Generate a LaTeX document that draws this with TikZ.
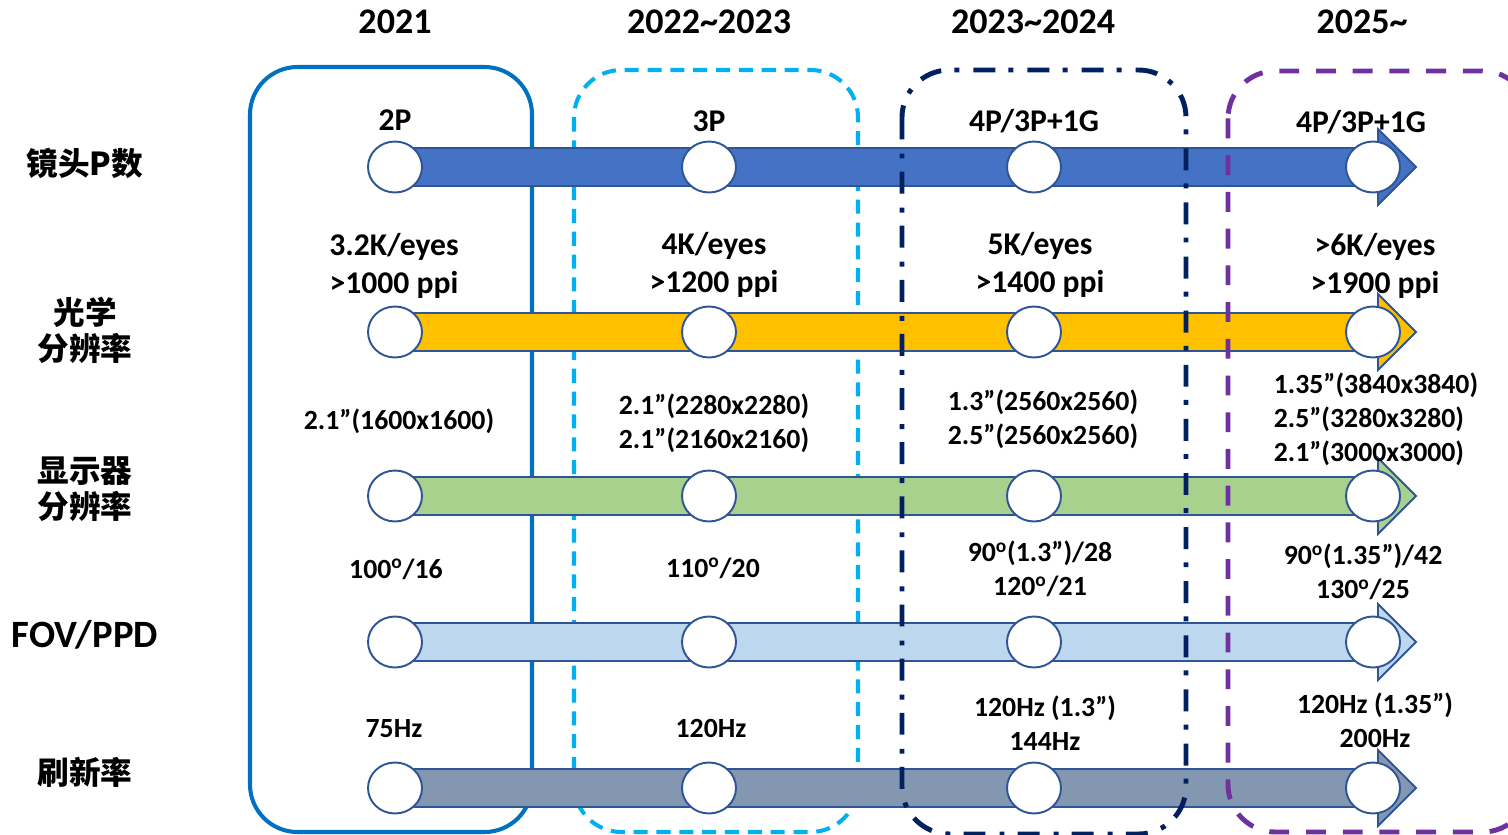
\documentclass[tikz,border=0pt]{standalone}
\usepackage{fontspec}
\setmainfont{Carlito}
\newfontfamily\cjkfont{Noto Sans CJK SC}
\usetikzlibrary{shapes.geometric}
\definecolor{boxsolid}{HTML}{0070C0}
\definecolor{boxlight}{HTML}{00B0F0}
\definecolor{boxnavy}{HTML}{002060}
\definecolor{boxpurple}{HTML}{7030A0}
\definecolor{bandline}{HTML}{2F5597}
\definecolor{banda}{HTML}{4472C4}
\definecolor{bandb}{HTML}{FFC000}
\definecolor{bandc}{HTML}{A9D18E}
\definecolor{bandd}{HTML}{BDD7EE}
\definecolor{bande}{HTML}{8497B0}

\begin{document}
\begin{tikzpicture}[x=0.02cm, y=-0.02cm,
  yr/.style={font=\fontsize{20.5}{24}\selectfont\bfseries},
  lbl/.style={font=\fontsize{18}{21.5}\selectfont\bfseries, align=center},
  sml/.style={font=\fontsize{15.8}{19.3}\selectfont\bfseries, align=center},
  cat/.style={font=\cjkfont\fontsize{18}{20.5}\selectfont\bfseries, align=center},
  mile/.style={ellipse, draw=bandline, line width=1.1pt, fill=white,
               minimum width=1.08cm, minimum height=1.02cm, inner sep=0pt},
  band/.style={draw=bandline, line width=1.1pt, line join=miter},
  period/.style={rounded corners=0.95cm}
]
\useasboundingbox (0,0) rectangle (1508,835);
\clip (0,0) rectangle (1508,835);

% year columns, drawn below the bands
\draw[period, boxsolid, line width=2.3pt] (250,67) rectangle (532,832);
\draw[period, boxlight, line width=2.3pt, dash pattern=on 8pt off 5pt] (574,70) rectangle (858,832);

% bands with milestones
\foreach \y/\c [count=\r] in {167/banda,332/bandb,496/bandc,642/bandd,788/bande}{
  \draw[band, fill=\c] (395,\y-19) -- (1378,\y-19) -- (1378,\y-38) -- (1416,\y)
    -- (1378,\y+38) -- (1378,\y+19) -- (395,\y+19) -- cycle;
  \foreach \x [count=\k] in {395,709,1034,1373}
    \node[mile] (m\r\k) at (\x,\y) {};
}

% year columns, drawn over the bands
\draw[period, boxnavy, line width=2.8pt,
      dash pattern=on 12.5pt off 8pt on 2.8pt off 7.5pt] (902,70) rectangle (1186,834);
\draw[period, boxpurple, line width=2.8pt, dash pattern=on 11.3pt off 9.6pt] (1228,71) rectangle (1530,832);

% years
\node[yr] (y1) at (395,22) {2021};
\node[yr] (y2) at (709,22) {2022\textasciitilde2023};
\node[yr] (y3) at (1033,22) {2023\textasciitilde2024};
\node[yr] (y4) at (1362,22) {2025\textasciitilde};

% row titles
\node[cat] (t1) at (85,163) {镜头P数};
\node[cat] (t2) at (85,330) {光学\\分辨率};
\node[cat] (t3) at (85,489) {显示器\\分辨率};
\node[font=\fontsize{22}{26}\selectfont\bfseries] (t4) at (85,635) {FOV/PPD};
\node[cat] (t5) at (85,772) {刷新率};

% lens count
\node[lbl] (a1) at (395,120) {2P};
\node[lbl] (a2) at (709,121) {3P};
\node[lbl] (a3) at (1034,121) {4P/3P+1G};
\node[lbl] (a4) at (1361,122) {4P/3P+1G};

% optical resolution
\node[lbl] (b1) at (394,266) {3.2K/eyes\\>1000 ppi};
\node[lbl] (b2) at (714,265) {4K/eyes\\>1200 ppi};
\node[lbl] (b3) at (1040,265) {5K/eyes\\>1400 ppi};
\node[lbl] (b4) at (1375,266) {>6K/eyes\\>1900 ppi};

% display resolution
\node[sml] (c1) at (399,421) {2.1”(1600x1600)};
\node[sml] (c2) at (714,423) {2.1”(2280x2280)\\2.1”(2160x2160)};
\node[sml] (c3) at (1043,419) {1.3”(2560x2560)\\2.5”(2560x2560)};
\node[sml, align=left] (c4) at (1376,419) {1.35”(3840x3840)\\2.5”(3280x3280)\\2.1”(3000x3000)};

% FOV / PPD
\node[sml] (d1) at (396,569) {100\textsuperscript{o}/16};
\node[sml] (d2) at (713,568) {110\textsuperscript{o}/20};
\node[sml] (d3) at (1040,569) {90\textsuperscript{o}(1.3”)/28\\120\textsuperscript{o}/21};
\node[sml] (d4) at (1363,572) {90\textsuperscript{o}(1.35”)/42\\130\textsuperscript{o}/25};

% refresh rate
\node[sml] (e1) at (394,729) {75Hz};
\node[sml] (e2) at (711,728) {120Hz};
\node[sml] (e3) at (1045,723) {120Hz (1.3”)\\144Hz};
\node[sml] (e4) at (1375,720) {120Hz (1.35”)\\200Hz};
\end{tikzpicture}
\end{document}
